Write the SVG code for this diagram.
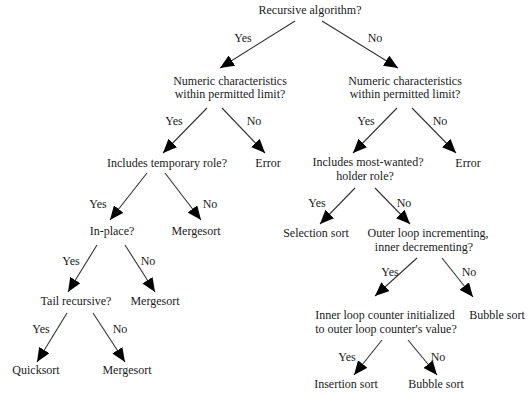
<svg xmlns="http://www.w3.org/2000/svg" width="531" height="396" viewBox="0 0 531 396">
<style>
text{font-family:"Liberation Serif","Times New Roman",serif;font-size:12px;fill:#1a1a1a;text-anchor:middle}
.c line{stroke:#333;stroke-width:1.1;marker-end:url(#ah)}
</style>
<defs>
<marker id="ah" markerUnits="userSpaceOnUse" markerWidth="15" markerHeight="12" refX="14" refY="6" orient="auto">
<path d="M0,0 L14,6 L0,12 z" fill="#000"/>
</marker>
</defs>
<rect width="531" height="396" fill="#fff"/>
<g id="connectors" class="c">
<line x1="295" y1="21" x2="220" y2="68"/>
<line x1="322" y1="21" x2="398" y2="68"/>
<line x1="207" y1="108" x2="163" y2="153"/>
<line x1="222" y1="108" x2="265" y2="153"/>
<line x1="397" y1="108" x2="353" y2="153"/>
<line x1="412" y1="108" x2="456" y2="153"/>
<line x1="147" y1="173" x2="110" y2="220"/>
<line x1="165" y1="173" x2="201" y2="220"/>
<line x1="355" y1="188" x2="320" y2="224"/>
<line x1="375" y1="188" x2="410" y2="224"/>
<line x1="97" y1="245" x2="68" y2="292"/>
<line x1="125" y1="245" x2="155" y2="292"/>
<line x1="417" y1="258" x2="375" y2="296"/>
<line x1="442" y1="258" x2="473" y2="297"/>
<line x1="67" y1="313" x2="37" y2="362"/>
<line x1="93" y1="313" x2="125" y2="362"/>
<line x1="382" y1="340" x2="354" y2="375"/>
<line x1="408" y1="340" x2="437" y2="375"/>
<g id="edge-labels">
<text x="243" y="42">Yes</text><text x="375" y="42">No</text>
<text x="174" y="125">Yes</text><text x="254" y="125">No</text>
<text x="366" y="125">Yes</text><text x="440" y="125">No</text>
<text x="98" y="208">Yes</text><text x="210" y="208">No</text>
<text x="317" y="207">Yes</text><text x="404" y="207">No</text>
<text x="71" y="265">Yes</text><text x="148" y="265">No</text>
<text x="390" y="276">Yes</text><text x="469" y="276">No</text>
<text x="41" y="333">Yes</text><text x="120" y="333">No</text>
<text x="347" y="361">Yes</text><text x="438" y="361">No</text>
</g>
</g>
<g id="n-recursive"><text x="310" y="14">Recursive algorithm?</text></g>
<g id="n-numeric-left"><text x="230" y="85">Numeric characteristics</text><text x="230" y="98">within permitted limit?</text></g>
<g id="n-numeric-right"><text x="405" y="85">Numeric characteristics</text><text x="405" y="98">within permitted limit?</text></g>
<g id="n-temporary"><text x="167" y="167">Includes temporary role?</text></g>
<g id="n-error-left"><text x="268" y="167">Error</text></g>
<g id="n-mostwanted"><text x="368" y="166">Includes most-wanted?</text><text x="365" y="180">holder role?</text></g>
<g id="n-error-right"><text x="468" y="167">Error</text></g>
<g id="n-inplace"><text x="112" y="235">In-place?</text></g>
<g id="n-mergesort1"><text x="196" y="235">Mergesort</text></g>
<g id="n-selection"><text x="316" y="237">Selection sort</text></g>
<g id="n-outer"><text x="428" y="237">Outer loop incrementing,</text><text x="424" y="251">inner decrementing?</text></g>
<g id="n-tail"><text x="76" y="305">Tail recursive?</text></g>
<g id="n-mergesort2"><text x="155" y="305">Mergesort</text></g>
<g id="n-inner"><text x="385" y="319">Inner loop counter initialized</text><text x="386" y="333">to outer loop counter's value?</text></g>
<g id="n-bubble1"><text x="497" y="319">Bubble sort</text></g>
<g id="n-quicksort"><text x="36" y="374">Quicksort</text></g>
<g id="n-mergesort3"><text x="127" y="374">Mergesort</text></g>
<g id="n-insertion"><text x="346" y="388">Insertion sort</text></g>
<g id="n-bubble2"><text x="436" y="388">Bubble sort</text></g>
</svg>
